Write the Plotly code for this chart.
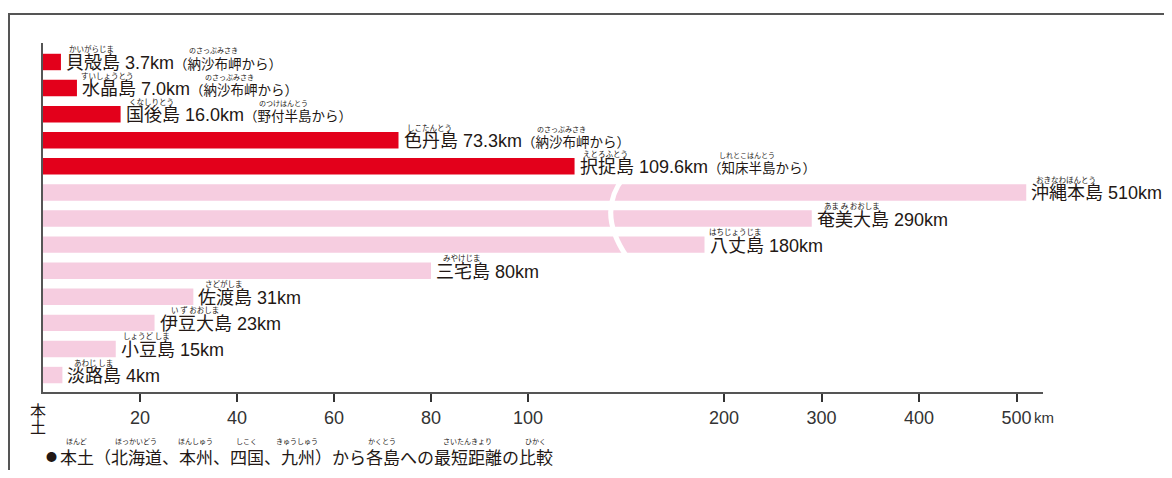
import plotly.graph_objects as go

# ---------------- data ----------------
islands = ["貝殻島", "水晶島", "国後島", "色丹島", "択捉島", "沖縄本島", "奄美大島",
           "八丈島", "三宅島", "佐渡島", "伊豆大島", "小豆島", "淡路島"]
distances = [3.7, 7.0, 16.0, 73.3, 109.6, 510, 290, 180, 80, 31, 23, 15, 4]
value_labels = ["3.7km", "7.0km", "16.0km", "73.3km", "109.6km", "510km", "290km",
                "180km", "80km", "31km", "23km", "15km", "4km"]
origins = ["納沙布岬", "納沙布岬", "野付半島", "納沙布岬", "知床半島",
           "", "", "", "", "", "", "", ""]
island_ruby = ["かいがらじま", "すいしょうとう", "くなしりとう", "しこたんとう", "えとろふとう",
               "おきなわほんとう", "あま み おおしま", "はちじょうじま", "みやけじま",
               "さどがしま", "い ず おおしま", "しょうど しま", "あわじ しま"]
origin_ruby = {"納沙布岬": "のさっぷみさき", "野付半島": "のつけはんとう", "知床半島": "しれとこはんとう"}
groups = ["north"] * 5 + ["other"] * 8
left_ticks = [20, 40, 60, 80, 100]
right_ticks = [200, 300, 400, 500]
footer_bullet = "●"
footer_text = "本土（北海道、本州、四国、九州）から各島への最短距離の比較"
footer_ruby = [("ほんど", 0, 2), ("ほっかいどう", 3, 3), ("ほんしゅう", 7, 2), ("しこく", 10, 2),
               ("きゅうしゅう", 13, 2), ("かくとう", 18, 2), ("さいたんきょり", 22, 4), ("ひかく", 27, 2)]

# ---------------- style ----------------
OFF = 8  # page body margin
W, H = 1172 - 2 * OFF, 478 - 2 * OFF
ML, MT = 43 - OFF, 43 - OFF
PLOT_R, PLOT_B = 1043 - OFF, 392 - OFF
MR, MB = W - PLOT_R, H - PLOT_B
PW, PH = PLOT_R - ML, PLOT_B - MT
RED = "#E3001B"
PINK = "#F6CDE0"
TXT = "#231815"
FONT = "Liberation Sans, Noto Sans CJK JP"
CJK = "Noto Sans CJK JP"
BREAK_PX = 620
LEFT_RANGE = [0, (BREAK_PX - 43) / 4.85]
RIGHT_RANGE = [200 - (724 - BREAK_PX) / 0.975, 200 + (1043 - 724) / 0.975]
split = (BREAK_PX - 43) / (1043 - 43)
colors = [RED if g == "north" else PINK for g in groups]


def px_x(p):  # reference pixel -> paper
    return (p - OFF - ML) / PW


def px_y(p):
    return (PLOT_B - (p - OFF)) / PH


fig = go.Figure()
fig.add_trace(go.Bar(y=islands, x=distances, orientation="h", marker=dict(color=colors, line_width=0),
                     width=0.63, xaxis="x", yaxis="y", hoverinfo="skip"))
big = [d if d > LEFT_RANGE[1] else None for d in distances]
fig.add_trace(go.Bar(y=islands, x=big, orientation="h", marker=dict(color=colors, line_width=0),
                     width=0.63, xaxis="x2", yaxis="y", hoverinfo="skip"))

axis_common = dict(showline=True, linecolor="#555", linewidth=2, ticks="outside", ticklen=8,
                   tickwidth=1.5, tickcolor="#333", showgrid=False, zeroline=False,
                   tickfont=dict(family=FONT, size=18, color="#333"), fixedrange=True)
fig.update_layout(
    width=W, height=H, margin=dict(l=ML, r=MR, t=MT, b=MB),
    paper_bgcolor="white", plot_bgcolor="white", showlegend=False,
    xaxis=dict(domain=[0, split], range=LEFT_RANGE, tickvals=left_ticks,
               ticktext=[str(v) for v in left_ticks], **axis_common),
    xaxis2=dict(domain=[split, 1], range=RIGHT_RANGE, anchor="y", tickvals=right_ticks,
                ticktext=[str(v) for v in right_ticks], **axis_common),
    yaxis=dict(type="category", categoryorder="array", categoryarray=islands,
               range=[len(islands) - 1 + 0.65, -0.728], showticklabels=False, showline=True,
               linecolor="#555", linewidth=2, ticks="", showgrid=False, zeroline=False),
)

# Arial-like widths (em) for Latin
AW = {"0": .556, "1": .556, "2": .556, "3": .556, "4": .556, "5": .556, "6": .556, "7": .556,
      "8": .556, "9": .556, ".": .278, "k": .5, "m": .833, " ": .278}

annotations = []
for name, d, vl, org, rb in zip(islands, distances, value_labels, origins, island_ruby):
    xref = "x" if d <= LEFT_RANGE[1] else "x2"
    txt = f"{name} {vl}"
    if org:
        txt += f"<span style='font-size:13.5px'>（{org}から）</span>"
    annotations.append(dict(x=d, y=name, xref=xref, yref="y", text=txt, showarrow=False,
                            xanchor="left", yanchor="middle", xshift=3, yshift=-1,
                            font=dict(family=FONT, size=18, color=TXT)))
    # ruby over the island name
    annotations.append(dict(x=d, y=name, xref=xref, yref="y", text=rb, showarrow=False,
                            xanchor="center", yanchor="middle", xshift=4 + len(name) * 9,
                            yshift=13, font=dict(family=CJK, size=7.5, color=TXT)))
    if org:
        w = 4 + len(name) * 18 + sum(AW.get(c, .556) for c in " " + vl) * 18 + 13.5
        annotations.append(dict(x=d, y=name, xref=xref, yref="y", text=origin_ruby[org],
                                showarrow=False, xanchor="center", yanchor="middle",
                                xshift=w + len(org) * 13.5 / 2, yshift=11.5,
                                font=dict(family=CJK, size=7, color=TXT)))

# "km" unit after the last tick
annotations.append(dict(x=right_ticks[-1], y=0, xref="x2", yref="paper", text="km", showarrow=False,
                        xanchor="left", yanchor="top", xshift=15, yshift=-15,
                        font=dict(family=FONT, size=15, color="#333")))
# vertical 本土 at origin
for i, ch in enumerate("本土"):
    annotations.append(dict(x=px_x(38), y=px_y(410 + 16 * i), xref="paper", yref="paper", text=ch,
                            showarrow=False, xanchor="center", yanchor="middle",
                            font=dict(family=CJK, size=16, color=TXT)))
# footer
BX, FX, FY, FS = 44, 58, 456, 17
annotations.append(dict(x=px_x(BX), y=px_y(FY), xref="paper", yref="paper", text=footer_bullet,
                        showarrow=False, xanchor="left", yanchor="middle",
                        font=dict(family=CJK, size=11, color=TXT)))
annotations.append(dict(x=px_x(FX), y=px_y(FY), xref="paper", yref="paper", text=footer_text,
                        showarrow=False, xanchor="left", yanchor="middle",
                        font=dict(family=CJK, size=FS, color=TXT)))
for rb, start, n in footer_ruby:
    annotations.append(dict(x=px_x(FX + 1 + FS * (start + n / 2)), y=px_y(FY - 15), xref="paper",
                            yref="paper", text=rb, showarrow=False, xanchor="center",
                            yanchor="middle", font=dict(family=CJK, size=7, color=TXT)))
fig.update_layout(annotations=annotations)

# break mark and frame
shapes = [
    dict(type="path", xref="paper", yref="paper",
         path=f"M {px_x(624)},{px_y(177)} Q {px_x(596)},{px_y(212)} {px_x(627)},{px_y(257)}",
         line=dict(color="white", width=5), layer="above"),
    dict(type="line", xref="paper", yref="paper", x0=px_x(8), x1=px_x(1180), y0=px_y(14), y1=px_y(14),
         line=dict(color="#555", width=2)),
    dict(type="line", xref="paper", yref="paper", x0=px_x(9), x1=px_x(9), y0=px_y(14), y1=px_y(490),
         line=dict(color="#555", width=2)),
]
fig.update_layout(shapes=shapes)

fig.write_html("out.html")
